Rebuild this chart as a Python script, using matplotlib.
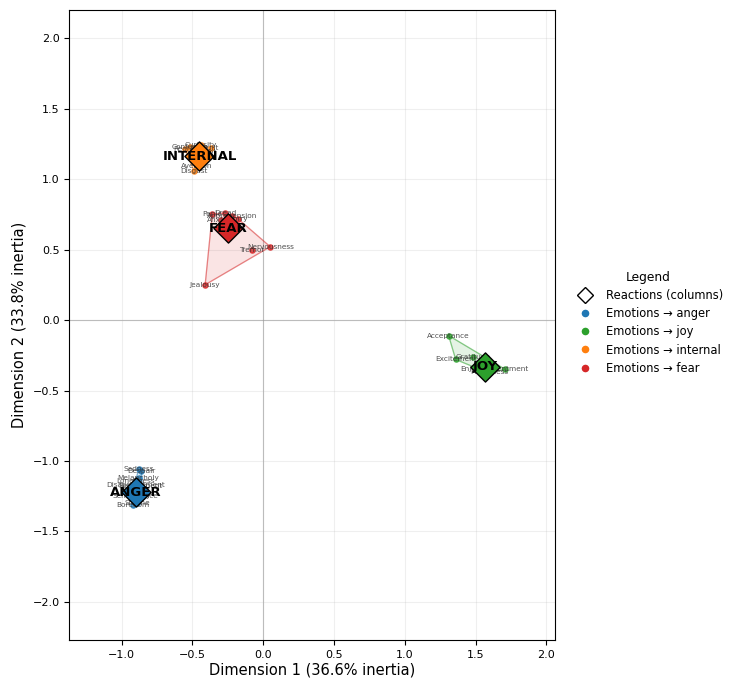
import matplotlib
matplotlib.use("Agg")
import matplotlib.pyplot as plt
import numpy as np
from matplotlib.lines import Line2D

# Reactions (column points)
reactions = ["INTERNAL", "FEAR", "JOY", "ANGER"]
reaction_x = [-0.45, -0.25, 1.57, -0.90]
reaction_y = [1.16, 0.65, -0.33, -1.22]

# Emotions (row points), grouped by the reaction they map to
anger_labels = ["Sadness", "Despair", "Melancholy", "Loneliness", "Disappointment",
                "Resentment", "Sensitivity", "Injustice", "Boredom", "Shame"]
anger_x = [-0.88, -0.86, -0.88, -0.90, -0.90, -0.87, -0.93, -0.85, -0.92, -0.89]
anger_y = [-1.06, -1.07, -1.12, -1.14, -1.17, -1.18, -1.25, -1.25, -1.31, -1.30]

joy_labels = ["Acceptance", "Excitement", "Gratitude", "Enjoyment", "Contentment", "Happiness"]
joy_x = [1.31, 1.36, 1.48, 1.53, 1.71, 1.60]
joy_y = [-0.11, -0.28, -0.26, -0.35, -0.35, -0.37]

internal_labels = ["Confusion", "Curiosity", "Guilt", "Regret", "Doubt", "Aversion", "Disgust"]
internal_x = [-0.52, -0.44, -0.37, -0.55, -0.41, -0.47, -0.49]
internal_y = [1.23, 1.24, 1.22, 1.21, 1.19, 1.09, 1.06]

fear_labels = ["Panic", "Dread", "Apprehension", "Anxiety", "Worry",
               "Nervousness", "Tremor", "Jealousy"]
fear_x = [-0.36, -0.27, -0.22, -0.30, -0.18, 0.05, -0.08, -0.41]
fear_y = [0.75, 0.76, 0.74, 0.71, 0.72, 0.52, 0.50, 0.25]

groups = [("anger", anger_labels, anger_x, anger_y, "#1f77b4", "ANGER"),
          ("joy", joy_labels, joy_x, joy_y, "#2ca02c", "JOY"),
          ("internal", internal_labels, internal_x, internal_y, "#ff7f0e", "INTERNAL"),
          ("fear", fear_labels, fear_x, fear_y, "#d62728", "FEAR")]


def convex_hull(pts):
    pts = sorted(set(pts))
    if len(pts) < 3:
        return pts

    def cross(o, a, b):
        return (a[0] - o[0]) * (b[1] - o[1]) - (a[1] - o[1]) * (b[0] - o[0])
    lower, upper = [], []
    for p in pts:
        while len(lower) >= 2 and cross(lower[-2], lower[-1], p) <= 0:
            lower.pop()
        lower.append(p)
    for p in reversed(pts):
        while len(upper) >= 2 and cross(upper[-2], upper[-1], p) <= 0:
            upper.pop()
        upper.append(p)
    return lower[:-1] + upper[:-1]


fig = plt.figure(figsize=(7.29, 6.78), dpi=100)
ax = fig.add_axes([0.095, 0.056, 0.666, 0.929])

ax.axhline(0, color="gray", lw=0.8, alpha=0.5, zorder=1)
ax.axvline(0, color="gray", lw=0.8, alpha=0.5, zorder=1)
ax.grid(True, alpha=0.2, zorder=0)

for name, labels, xs, ys, col, rname in groups:
    ri = reactions.index(rname)
    pts = list(zip(xs, ys)) + [(reaction_x[ri], reaction_y[ri])]
    hull = np.array(convex_hull(pts))
    ax.fill(hull[:, 0], hull[:, 1], color=col, alpha=0.12, zorder=2)
    ax.plot(np.append(hull[:, 0], hull[0, 0]), np.append(hull[:, 1], hull[0, 1]),
            color=col, alpha=0.5, lw=0.9, zorder=2)
    ax.scatter(xs, ys, s=14, color=col, alpha=0.8, zorder=3)
    for lab, x, y in zip(labels, xs, ys):
        ax.text(x, y, lab, fontsize=5.3, color="#333333", alpha=0.85,
                ha="center", va="center", zorder=4)

for name, labels, xs, ys, col, rname in groups:
    ri = reactions.index(rname)
    ax.scatter(reaction_x[ri], reaction_y[ri], marker="D", s=220, color=col,
               edgecolor="black", linewidth=1, zorder=5)
    ax.text(reaction_x[ri], reaction_y[ri], rname, fontsize=9.5, fontweight="bold",
            ha="center", va="center", color="black", zorder=6)

ax.set_xlim(-1.37, 2.06)
ax.set_ylim(-2.27, 2.198)
ax.set_xlabel("Dimension 1 (36.6% inertia)", fontsize=10.5, labelpad=2)
ax.set_ylabel("Dimension 2 (33.8% inertia)", fontsize=10.5)
ax.tick_params(labelsize=8)

handles = [Line2D([0], [0], marker="D", color="w", markerfacecolor="white",
                  markeredgecolor="black", markersize=8.5, label="Reactions (columns)")]
for name, labels, xs, ys, col, rname in groups:
    handles.append(Line2D([0], [0], marker="o", color="w", markerfacecolor=col,
                          markersize=6.5, label="Emotions \u2192 " + name))
fig.legend(handles=handles, title="Legend", loc="center left",
           bbox_to_anchor=(0.772, 0.524), frameon=False, fontsize=8.3, title_fontsize=8.8,
           labelspacing=0.45, handletextpad=0.85)

fig.savefig("out.png", dpi=100)
